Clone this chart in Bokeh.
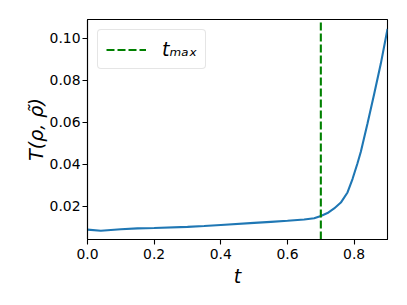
from bokeh.plotting import figure
from bokeh.models import Range1d, FixedTicker, CustomJSTickFormatter, Legend, LegendItem
from bokeh.embed import file_html
from bokeh.resources import INLINE

# data
t_vals = [0.0, 0.04, 0.1, 0.15, 0.2, 0.3, 0.35, 0.4, 0.5, 0.55, 0.6, 0.65, 0.68, 0.70,
          0.72, 0.74, 0.76, 0.78, 0.795, 0.81, 0.82, 0.84, 0.86, 0.88, 0.90]
T_vals = [0.0089, 0.0084, 0.0091, 0.0095, 0.0097, 0.0102, 0.0106, 0.0111, 0.0121, 0.0126,
          0.0131, 0.0137, 0.0143, 0.0154, 0.0168, 0.0190, 0.0218, 0.0266, 0.0330, 0.0405,
          0.0460, 0.0595, 0.0735, 0.0880, 0.1045]
t_max = 0.7
x_ticks = [0.0, 0.2, 0.4, 0.6, 0.8]
y_ticks = [0.02, 0.04, 0.06, 0.08, 0.10]
x_lo, x_hi = 0.0, 0.9
y_lo, y_hi = 0.0042, 0.109

FONT = "DejaVu Sans"

p = figure(width=391, height=289, output_backend="svg", toolbar_location=None,
           x_range=Range1d(x_lo, x_hi), y_range=Range1d(y_lo, y_hi),
           min_border_left=87, min_border_right=4, min_border_top=19, min_border_bottom=49)
p.grid.visible = False
p.background_fill_color = "white"
p.border_fill_color = "white"
p.outline_line_color = "black"
p.outline_line_width = 1.1
p.outline_line_alpha = 1.0

p.xaxis.ticker = FixedTicker(ticks=x_ticks)
p.yaxis.ticker = FixedTicker(ticks=y_ticks)
p.xaxis.formatter = CustomJSTickFormatter(code="return tick.toFixed(1);")
p.yaxis.formatter = CustomJSTickFormatter(code="return tick.toFixed(2);")
for ax in (p.xaxis, p.yaxis):
    ax.major_tick_out = 5
    ax.major_tick_in = 0
    ax.minor_tick_line_color = None
    ax.major_tick_line_width = 1.1
    ax.axis_line_width = 1.1
    ax.major_label_text_font = FONT
    ax.major_label_text_font_size = "13.9px"
    ax.major_label_text_color = "black"
    ax.axis_label_text_font = FONT
    ax.axis_label_text_font_size = "19px"
    ax.axis_label_text_font_style = "italic"
    ax.axis_label_text_color = "black"
p.xaxis.major_label_standoff = 4
p.yaxis.major_label_standoff = 2
p.xaxis.axis_label_standoff = 3
p.yaxis.axis_label_standoff = 0

p.xaxis.axis_label = "t"
p.yaxis.axis_label = "T(ρ, ρ̃)"

p.line(t_vals, T_vals, line_color="#1f77b4", line_width=2.1)

vline = p.segment(x0=[t_max], y0=[y_lo], x1=[t_max], y1=[y_hi], line_color="green",
                  line_width=2.1, line_dash="8 3")

legend = Legend(items=[LegendItem(label="tₘₐₓ", renderers=[vline])],
                location="top_left", margin=10, padding=8, spacing=0,
                glyph_width=40, glyph_height=19, label_standoff=16, label_height=19,
                label_text_font=FONT, label_text_font_size="19px",
                label_text_font_style="italic", label_text_color="black",
                border_line_color="#cccccc", border_line_width=1.1,
                background_fill_alpha=0.8, border_radius=4)
p.add_layout(legend)

open("out.html", "w").write(file_html(p, INLINE))
